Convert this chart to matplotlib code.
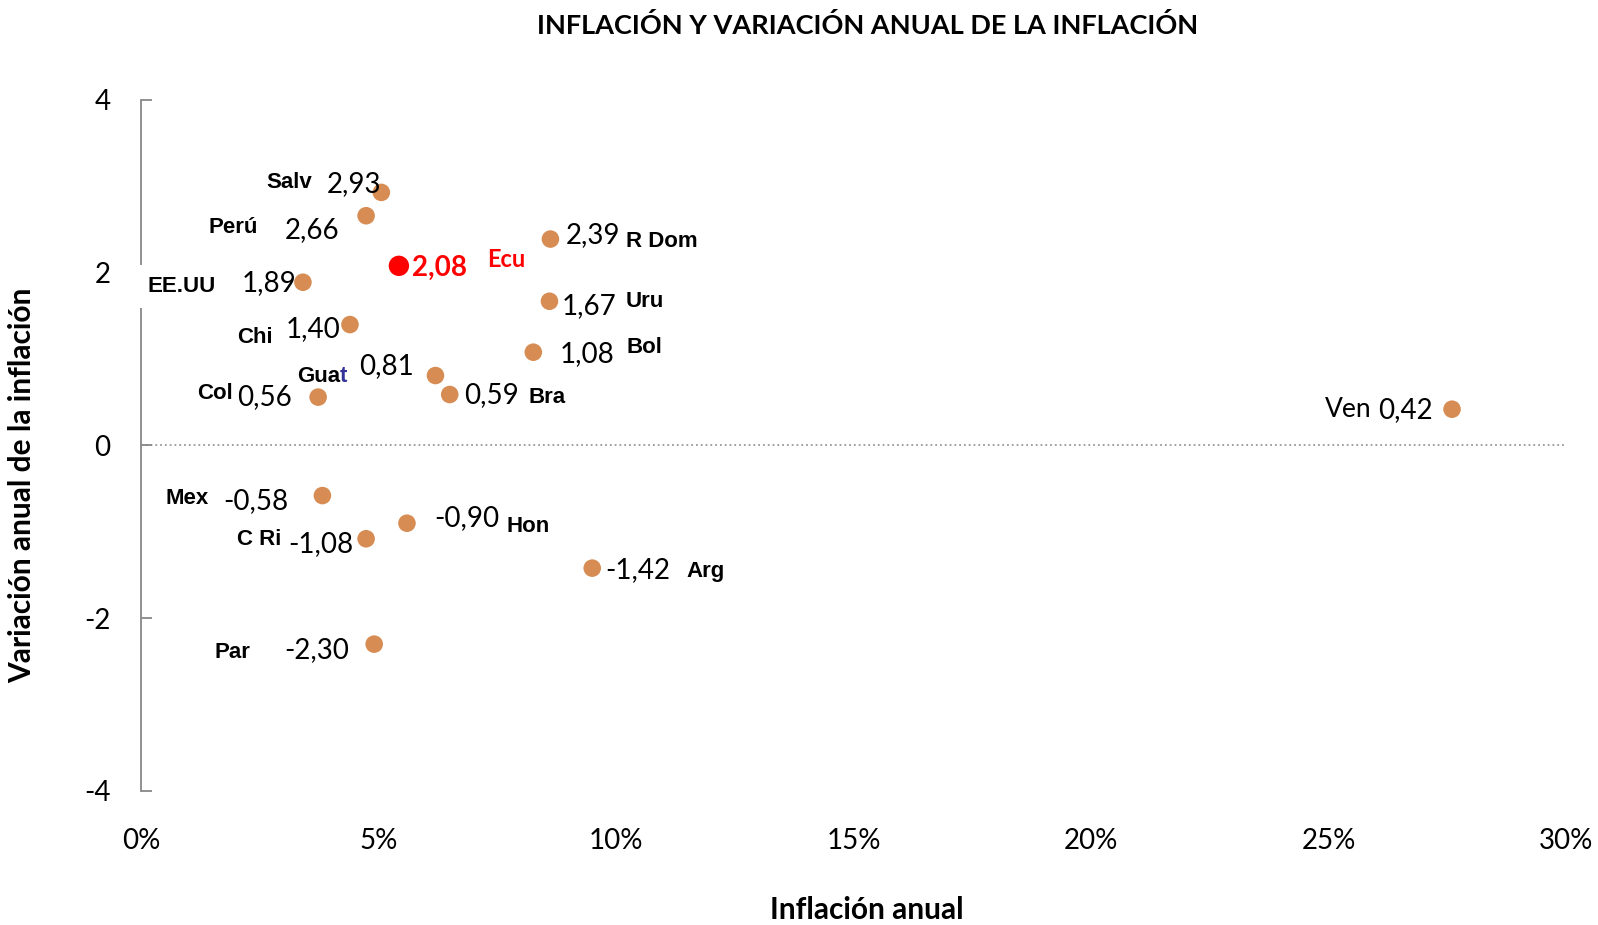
import matplotlib
matplotlib.use("Agg")
import matplotlib.pyplot as plt

# datos: inflación anual (%) y variación anual de la inflación
paises = ['Salv', 'Perú', 'Ecu', 'EE.UU', 'Chi', 'Guat', 'Bra', 'Col', 'R Dom',
          'Uru', 'Bol', 'Ven', 'Mex', 'Hon', 'C Ri', 'Arg', 'Par']
inflacion = [5.06, 4.74, 5.43, 3.41, 4.40, 6.20, 6.50, 3.73, 8.62,
             8.60, 8.26, 27.60, 3.82, 5.60, 4.74, 9.50, 4.91]
variacion = [2.93, 2.66, 2.08, 1.89, 1.40, 0.81, 0.59, 0.56, 2.39,
             1.67, 1.08, 0.42, -0.58, -0.90, -1.08, -1.42, -2.30]

x_ticks = [0, 5, 10, 15, 20, 25, 30]
y_ticks = [-4, -2, 0, 2, 4]

# desplazamientos de etiquetas (px, valor y nombre)
off_val = [(-54, 8), (-80, -14), (13, -2), (-60, -1), (-63, -4), (-75, 9), (14, -1),
           (-79, 0), (15, 4), (12, -5), (26, -2), (-73, -1), (-97, -5), (27, 5),
           (-76, -5), (13, -2), (-88, -6)]
off_nom = [(-113, 10), (-155, -12), (87, 6), (-153, -4), (-111, -13), (-136, -1), (77, -3),
           (-119, 4), (74, -2), (75, 0), (91, 5), (-125, 0), (-154, -3), (98, -3),
           (-127, -1), (92, -3), (-157, -8)]

naranja = '#D68C52'
esc = 1598 / 1568

plt.rcParams['font.family'] = ['Lato', 'DejaVu Sans']
plt.rcParams['axes.unicode_minus'] = False

fig = plt.figure(figsize=(15.98, 9.25), dpi=100)
ax = fig.add_axes([0.0882, 0.1449, 0.8918, 0.747])

ax.axhline(0, color='#999999', linestyle=':', lw=1.3, zorder=1)

for i, p in enumerate(paises):
    es_ecu = p == 'Ecu'
    ax.scatter(inflacion[i], variacion[i], s=215 if es_ecu else 160,
               color='red' if es_ecu else naranja, edgecolors='none', zorder=3)
    txt = f"{variacion[i]:.2f}".replace('.', ',')
    dx, dy = off_val[i]
    ax.annotate(txt, (inflacion[i], variacion[i]), xytext=(dx * esc, dy * esc),
                textcoords='offset pixels', ha='left', va='center',
                fontsize=20, color='red' if es_ecu else 'black',
                fontweight='bold' if es_ecu else 'normal')
    dx, dy = off_nom[i]
    if p == 'Ven':
        ax.annotate(p, (inflacion[i], variacion[i]), xytext=(dx * esc, dy * esc),
                    textcoords='offset pixels', ha='left', va='center', fontsize=19)
    elif p == 'Guat':
        t = ax.annotate('Gua', (inflacion[i], variacion[i]), xytext=(dx * esc, dy * esc),
                        textcoords='offset pixels', ha='left', va='center',
                        fontsize=16, fontweight='bold', family='Liberation Sans')
        ax.annotate('t', xy=(1, 0.5), xycoords=t, xytext=(0, 0), textcoords='offset pixels',
                    ha='left', va='center', fontsize=16, fontweight='bold',
                    family='Liberation Sans', color='#33339a')
    elif es_ecu:
        ax.annotate(p, (inflacion[i], variacion[i]), xytext=(dx * esc, dy * esc),
                    textcoords='offset pixels', ha='left', va='center',
                    fontsize=17, fontweight='bold', color='red')
    else:
        bb = dict(facecolor='white', edgecolor='none', pad=8) if p == 'EE.UU' else None
        ax.annotate(p, (inflacion[i], variacion[i]), xytext=(dx * esc, dy * esc),
                    textcoords='offset pixels', ha='left', va='center',
                    fontsize=16, fontweight='bold', family='Liberation Sans', bbox=bb,
                    zorder=4)

ax.set_xlim(0, 30)
ax.set_ylim(-4, 4)
ax.set_xticks(x_ticks)
ax.set_xticklabels([f"{v}%" for v in x_ticks])
ax.set_yticks(y_ticks)
ax.tick_params(axis='x', length=0, pad=27, labelsize=20)
ax.tick_params(axis='y', direction='in', length=8, color='#888888', width=1.3,
               pad=22, labelsize=20)
for s in ['top', 'right', 'bottom']:
    ax.spines[s].set_visible(False)
ax.spines['left'].set_color('#888888')
ax.spines['left'].set_linewidth(1.3)
ax.spines['left'].set_zorder(0)

fig.text(851 / 1568, 1 - 26 / 925, 'INFLACIÓN Y VARIACIÓN ANUAL DE LA INFLACIÓN',
         ha='center', va='center', fontsize=19.5, fontweight='bold')
fig.text(851 / 1568, 1 - 910 / 925, 'Inflación anual',
         ha='center', va='center', fontsize=21.5, fontweight='bold')
fig.text(22 / 1598, 1 - 485 / 925, 'Variación anual de la inflación',
         ha='center', va='center', fontsize=21.5, fontweight='bold', rotation=90)

fig.savefig('out.png', dpi=100, facecolor='white')
